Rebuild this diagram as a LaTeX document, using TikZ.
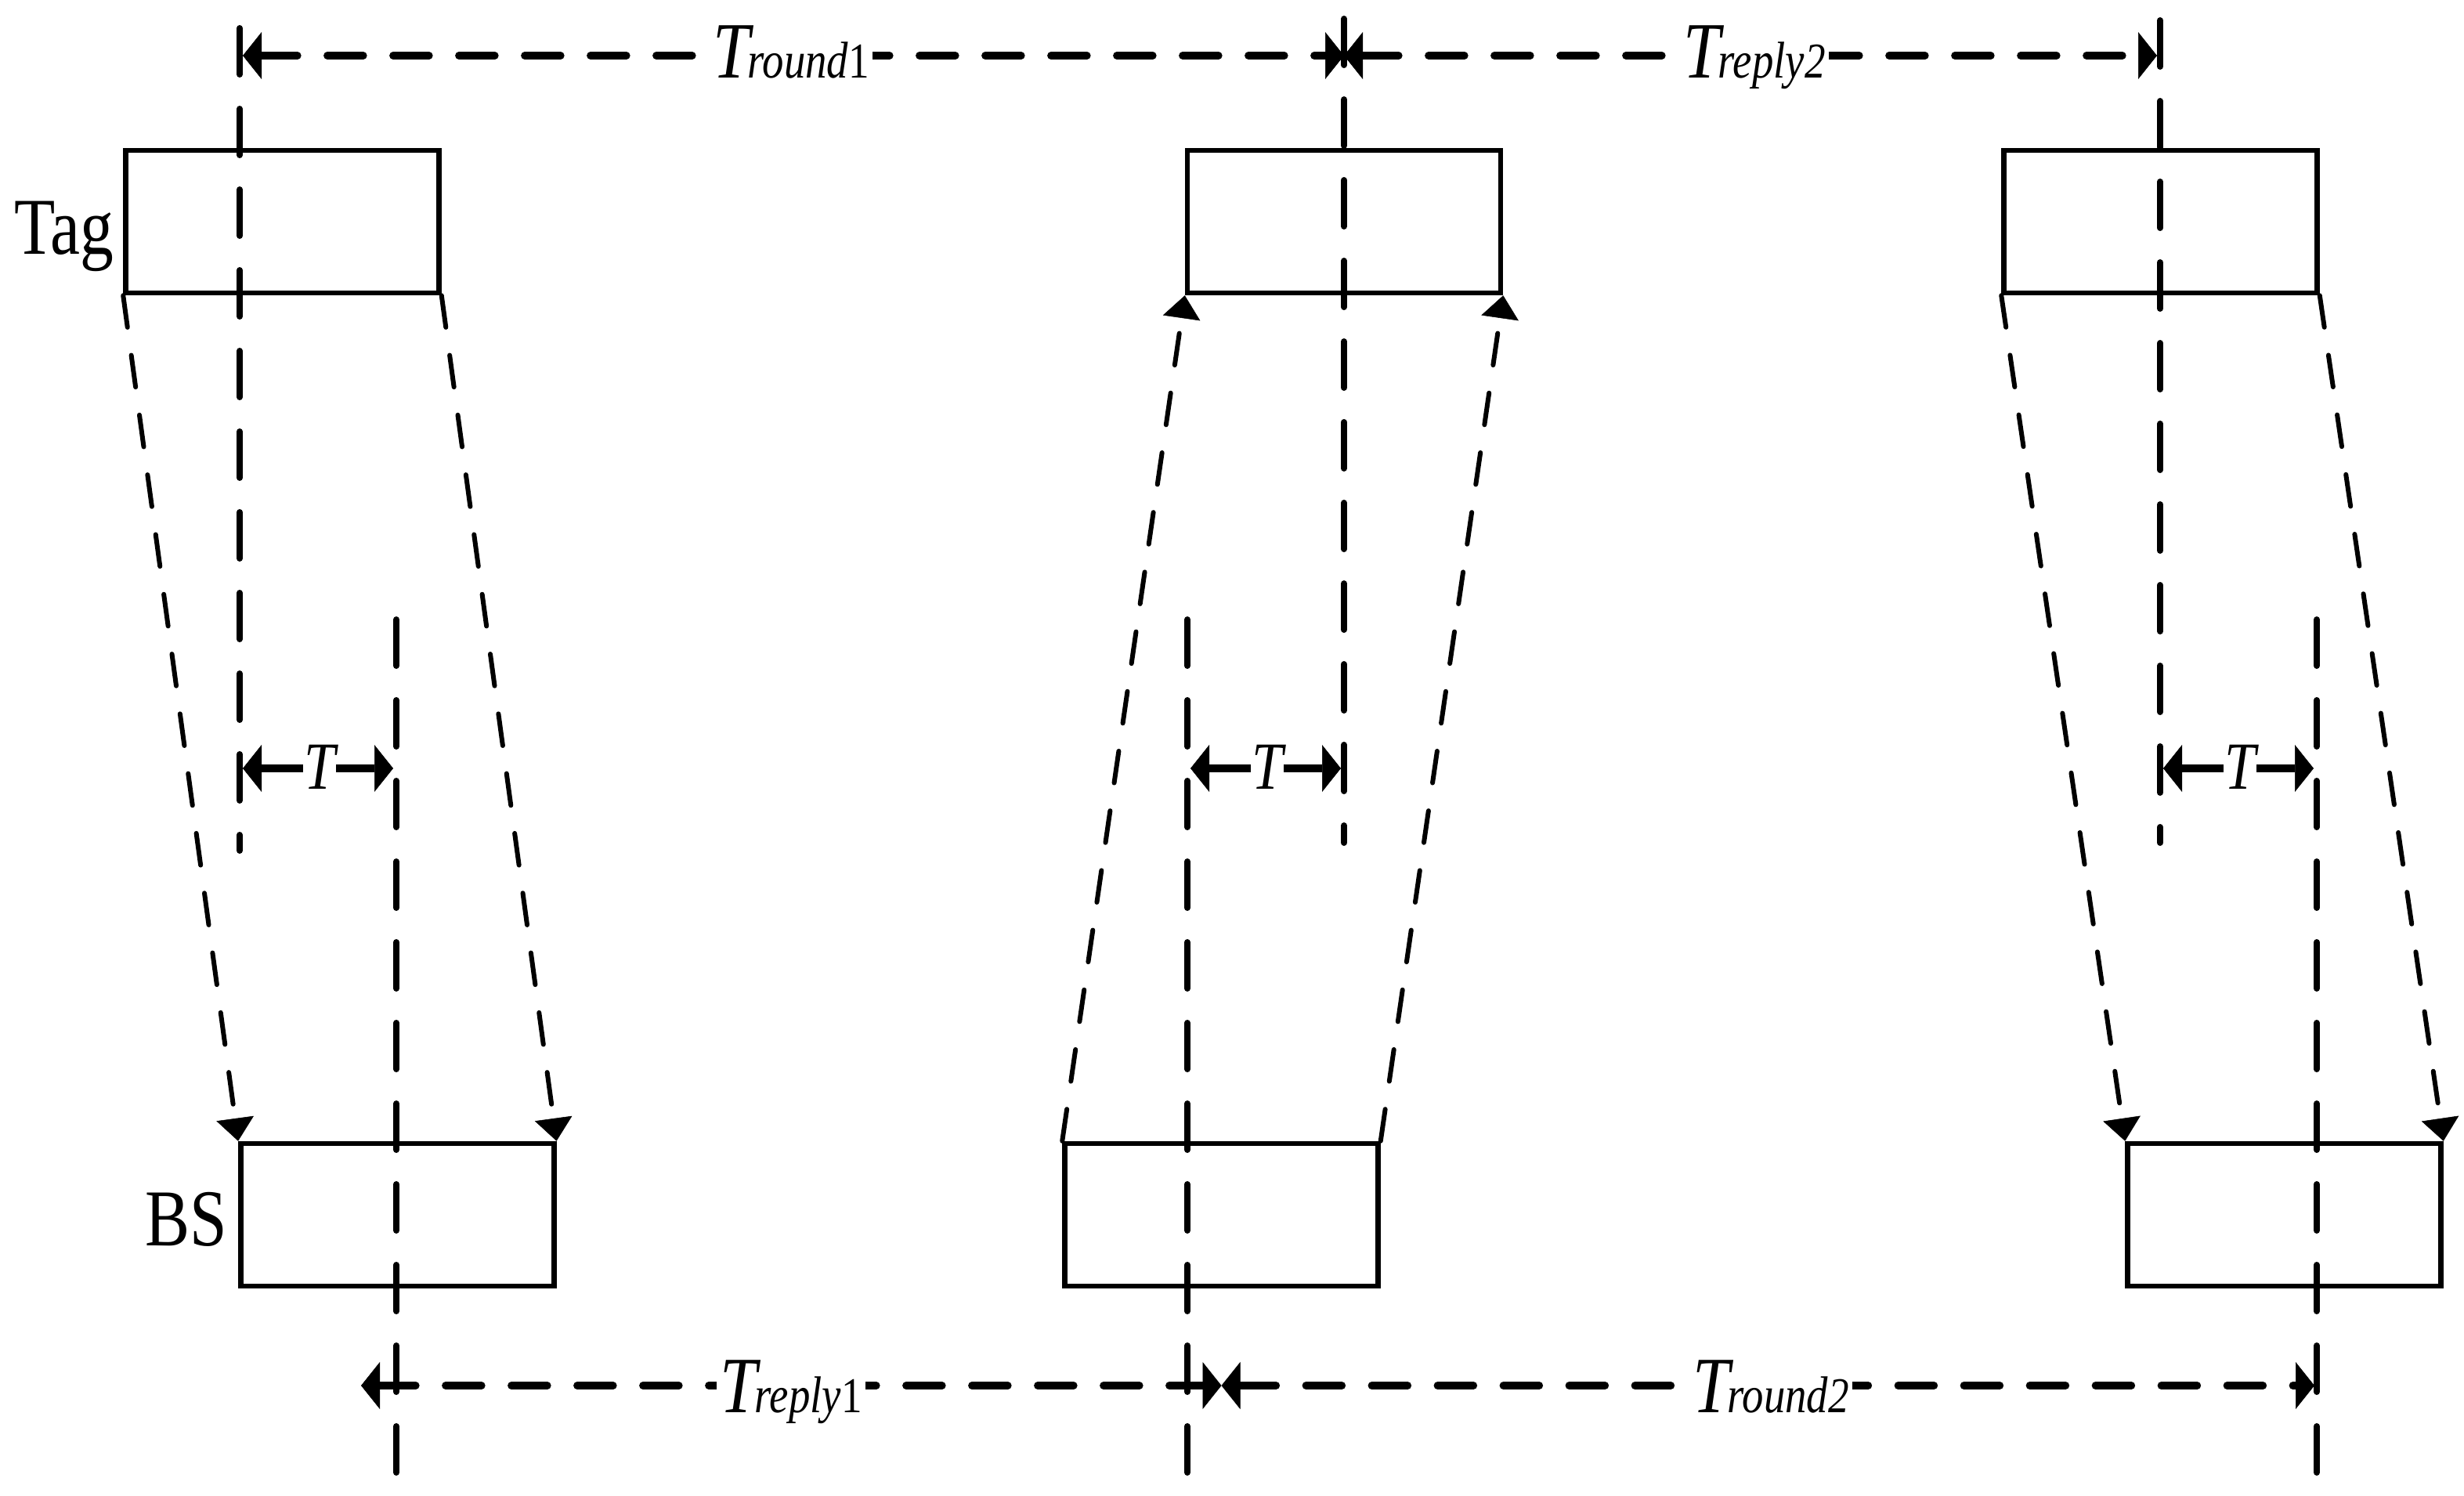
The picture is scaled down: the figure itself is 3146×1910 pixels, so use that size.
\documentclass[tikz,border=0pt]{standalone}
\usepackage{fontspec}
\setmainfont{Liberation Serif}[FakeStretch=0.83]
\usetikzlibrary{arrows.meta}
\newcommand{\dlab}[2]{{\fontsize{102pt}{102pt}\selectfont\itshape T}\kern-3pt{\fontsize{66pt}{66pt}\selectfont\itshape #1}{\fontsize{64pt}{64pt}\selectfont #2}}
\begin{document}
\begin{tikzpicture}[x=1pt,y=-1pt,
  box/.style={draw, line width=6.5pt, minimum width=400pt, minimum height=182pt, inner sep=0pt},
  vline/.style={line width=8pt, line cap=round, dash pattern=on 59pt off 44pt},
  slant/.style={line width=6pt, line cap=round, dash pattern=on 41pt off 36pt, -{Triangle[length=29pt,width=48pt,line width=0.5pt]}},
  dimline/.style={line width=9.5pt, line cap=round, dash pattern=on 46pt off 38pt, {Triangle[length=24pt,width=60pt,line width=0.5pt]}-{Triangle[length=24pt,width=60pt,line width=0.5pt]}},
  tarrow/.style={line width=9.5pt, {Triangle[length=24pt,width=60pt,line width=0.5pt]}-{Triangle[length=24pt,width=60pt,line width=0.5pt]}},
  dimlabel/.style={fill=white, inner sep=4pt, anchor=base},
  tlabel/.style={fill=white, inner sep=1pt, anchor=base, font=\fontsize{86pt}{86pt}\selectfont\itshape},
  sidelabel/.style={inner sep=0pt, anchor=base west, font=\fontsize{103pt}{103pt}\selectfont},
]
\useasboundingbox (0,0) rectangle (3146,1910);

% boxes
\node[box] (tag1) at (360.5,283) {};
\node[box] (tag2) at (1716,283) {};
\node[box] (tag3) at (2758.5,283) {};
\node[box] (bs1) at (507.3,1551) {};
\node[box] (bs2) at (1559.5,1551) {};
\node[box] (bs3) at (2916.5,1551) {};

% side labels
\node[sidelabel] (taglab) at (18,325) {Tag};
\node[sidelabel] (bslab) at (185,1590) {BS};

% vertical reference lines
\coordinate (L1t) at (306,36);  \coordinate (L1b) at (306,1086);
\coordinate (L2t) at (1716,24); \coordinate (L2b) at (1716,1076);
\coordinate (L3t) at (2758,26); \coordinate (L3b) at (2758,1076);
\coordinate (B1t) at (506,791); \coordinate (B1b) at (506,1880);
\coordinate (B2t) at (1516,791); \coordinate (B2b) at (1516,1880);
\coordinate (B3t) at (2958,791); \coordinate (B3b) at (2958,1880);
\draw[vline] (L1t) -- (L1b);
\draw[vline] (L2t) -- (L2b);
\draw[vline] (L3t) -- (L3b);
\draw[vline] (B1t) -- (B1b);
\draw[vline] (B2t) -- (B2b);
\draw[vline] (B3t) -- (B3b);

% slanted signal lines
\draw[slant] (tag1.south west) -- (bs1.north west);
\draw[slant] (tag1.south east) -- (bs1.north east);
\draw[slant] (bs2.north west) -- (tag2.south west);
\draw[slant] (bs2.north east) -- (tag2.south east);
\draw[slant] (tag3.south west) -- (bs3.north west);
\draw[slant] (tag3.south east) -- (bs3.north east);

% top dimension lines
\coordinate (ta) at (310,71);
\coordinate (tb) at (1716,71);
\coordinate (tc) at (2754,71);
\draw[dimline] (ta) -- (tb);
\draw[dimline] (tb) -- (tc);
\node[dimlabel] (round1) at (1010,100) {\dlab{round}{1}};
\node[dimlabel] (reply2) at (2240,100) {\dlab{reply}{\itshape 2}};

% bottom dimension lines
\coordinate (ba) at (461,1769);
\coordinate (bb) at (1559.5,1769);
\coordinate (bc) at (2955,1769);
\draw[dimline] (ba) -- (bb);
\draw[dimline] (bb) -- (bc);
\node[dimlabel] (reply1) at (1010,1803) {\dlab{reply}{1}};
\node[dimlabel] (round2) at (2261,1803) {\dlab{round}{\itshape 2}};

% T offsets
\coordinate (t1a) at (310,981);  \coordinate (t1b) at (502,981);
\coordinate (t2a) at (1520,981); \coordinate (t2b) at (1712,981);
\coordinate (t3a) at (2762,981); \coordinate (t3b) at (2954,981);
\draw[tarrow] (t1a) -- (t1b);
\draw[tarrow] (t2a) -- (t2b);
\draw[tarrow] (t3a) -- (t3b);
\node[tlabel] (T1) at (408,1007) {T};
\node[tlabel] (T2) at (1618,1007) {T};
\node[tlabel] (T3) at (2860,1007) {T};
\end{tikzpicture}
\end{document}
